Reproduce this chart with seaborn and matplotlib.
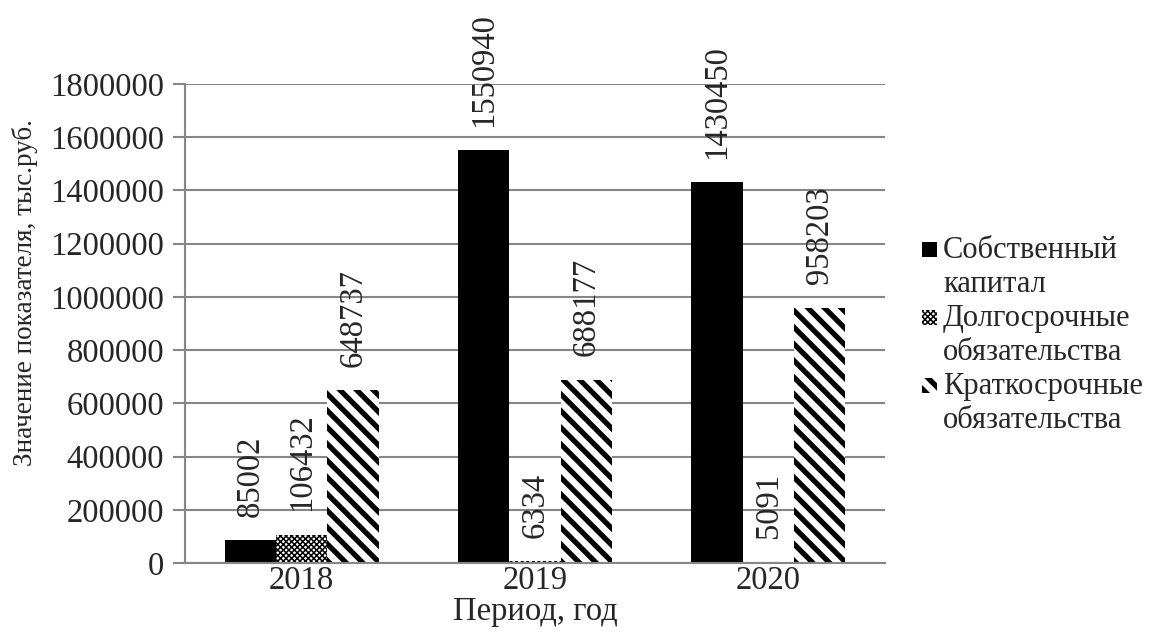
import matplotlib
matplotlib.use("Agg")
import matplotlib.pyplot as plt
import seaborn as sns
import pandas as pd
from matplotlib.patches import Rectangle

years = ["2018", "2019", "2020"]
series = ["Собственный капитал", "Долгосрочные обязательства", "Краткосрочные обязательства"]
legend_lines = [["Собственный", "капитал"], ["Долгосрочные", "обязательства"], ["Краткосрочные", "обязательства"]]
own_capital = [85002, 1550940, 1430450]
long_term = [106432, 6334, 5091]
short_term = [648737, 688177, 958203]
y_ticks = [0, 200000, 400000, 600000, 800000, 1000000, 1200000, 1400000, 1600000, 1800000]

sns.set_theme(style="white")
plt.rcParams["font.family"] = ["Liberation Serif", "DejaVu Serif"]

FS = 23.5
GRID = "#868686"

rows = []
for s, vals in zip(series, [own_capital, long_term, short_term]):
    for y, v in zip(years, vals):
        rows.append({"Год": y, "Серия": s, "Значение": v})
df = pd.DataFrame(rows)

W, H = 1155, 639
fig = plt.figure(figsize=(W / 100, H / 100), dpi=100)
ax = fig.add_axes([185 / W, 1 - 563 / H, 700 / W, 479 / H])

sns.barplot(data=df, x="Год", y="Значение", hue="Серия", order=years, hue_order=series,
            palette=["black", "white", "white"], width=0.66, gap=0, ax=ax, legend=False,
            edgecolor="black", linewidth=0)

styles = [
    dict(facecolor="black", hatch=None, hlw=1.0),
    dict(facecolor="white", hatch="xxxxxx", hlw=1.1),
    dict(facecolor="white", hatch="\\\\", hlw=3.8),
]


def style_patch(p, st):
    p.set_facecolor(st["facecolor"])
    p.set_edgecolor("black")
    p.set_linewidth(0)
    if st["hatch"]:
        p.set_hatch(st["hatch"])
        if hasattr(p, "set_hatch_linewidth"):
            p.set_hatch_linewidth(st["hlw"])


for cont, st, vals in zip(ax.containers, styles, [own_capital, long_term, short_term]):
    for bar in cont:
        style_patch(bar, st)
    ax.bar_label(cont, labels=[str(v) for v in vals], rotation=90, padding=17,
                 fontsize=FS, clip_on=False)

ax.set_ylim(0, 1800000)
ax.set_xlim(-0.5, 2.5)
ax.set_yticks(y_ticks)
ax.set_yticklabels([str(t) for t in y_ticks], fontsize=FS)
ax.set_xticks([0, 1, 2])
ax.set_xticklabels(years, fontsize=FS)
ax.set_xticks([-0.5, 0.5, 1.5, 2.5], minor=True)
ax.tick_params(axis="x", which="major", length=0, pad=2)
ax.tick_params(axis="x", which="minor", length=9, color=GRID, width=1.5, direction="out")
ax.tick_params(axis="y", length=9, color=GRID, width=1.5, direction="out", left=True, pad=6)
ax.grid(axis="y", color=GRID, linewidth=1.5)
ax.set_axisbelow(True)
for sp in ["top", "right"]:
    ax.spines[sp].set_visible(False)
for sp in ["left", "bottom"]:
    ax.spines[sp].set_color(GRID)
    ax.spines[sp].set_linewidth(1.5)

ax.set_xlabel("Период, год", fontsize=FS, labelpad=0)
ax.set_ylabel("Значение показателя, тыс.руб.", fontsize=19.5)
ax.yaxis.set_label_coords((38 - 185) / 700, (563 - 293) / 479)

# legend (manual, to match the two-line entries with the swatch on the first line)
LFS = 22
base0 = 258
step = 34
for i, (lines, st) in enumerate(zip(legend_lines, styles)):
    for j, line in enumerate(lines):
        yb = base0 + step * (2 * i + j)
        fig.text(943 / W, 1 - yb / H, line, fontsize=LFS, ha="left", va="baseline")
    yc = base0 + step * 2 * i - 9
    sq = 15
    r = Rectangle((922 / W, 1 - (yc + sq / 2) / H), sq / W, sq / H, transform=fig.transFigure)
    style_patch(r, st)
    fig.patches.append(r)

fig.savefig("out.png", dpi=100)
